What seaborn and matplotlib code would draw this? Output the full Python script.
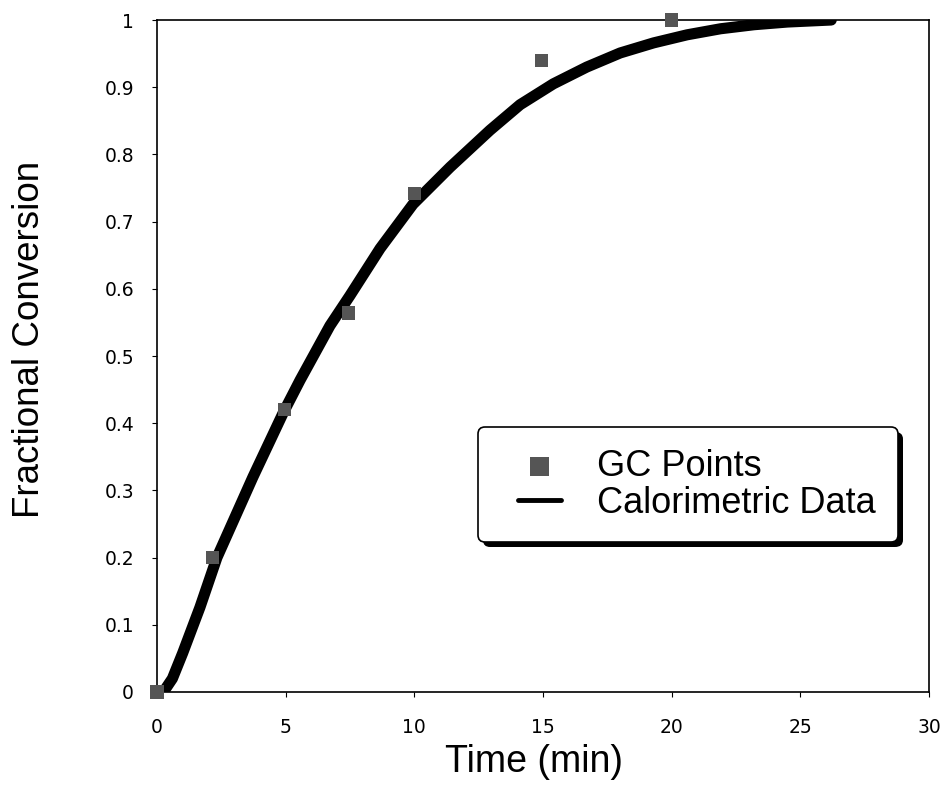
import matplotlib
matplotlib.use("Agg")
import matplotlib.pyplot as plt
import matplotlib.patheffects as pe
from matplotlib.legend_handler import HandlerLine2D, HandlerPathCollection
from matplotlib.lines import Line2D
from matplotlib.collections import PathCollection
import seaborn as sns
import pandas as pd

# GC points
gc_time = [0, 2.15, 4.95, 7.45, 10.0, 14.95, 20.0]
gc_conv = [0.0, 0.20, 0.421, 0.564, 0.742, 0.94, 1.0]

# Calorimetric data curve
cal_time = [0.25, 0.6, 1.0, 1.67, 2.33, 3.1, 3.73, 4.9, 5.56, 6.72, 7.5, 8.67,
            9.95, 11.39, 12.94, 14.11, 15.4, 16.7, 18.0, 19.3, 20.6, 21.9,
            23.2, 24.5, 26.2]
cal_conv = [0.0, 0.02, 0.058, 0.126, 0.2, 0.266, 0.32, 0.415, 0.464, 0.545,
            0.59, 0.66, 0.726, 0.781, 0.836, 0.874, 0.905, 0.93, 0.951, 0.966,
            0.978, 0.987, 0.993, 0.997, 1.0]

x_ticks = [0, 5, 10, 15, 20, 25, 30]
y_ticks = [0, 0.1, 0.2, 0.3, 0.4, 0.5, 0.6, 0.7, 0.8, 0.9, 1]
y_tick_labels = ["0", "0.1", "0.2", "0.3", "0.4", "0.5", "0.6", "0.7", "0.8", "0.9", "1"]

sns.set_style("ticks")
plt.rcParams['font.family'] = ['DejaVu Sans']
plt.rcParams['text.color'] = 'black'
plt.rcParams['axes.labelcolor'] = 'black'
plt.rcParams['xtick.color'] = 'black'
plt.rcParams['ytick.color'] = 'black'

fig = plt.figure(figsize=(9.45, 8.01), dpi=100)
ax = fig.add_axes([0.1661, 0.1361, 0.8170, 0.8389])

cal_df = pd.DataFrame({"time": cal_time, "conv": cal_conv})
gc_df = pd.DataFrame({"time": gc_time, "conv": gc_conv})

sns.lineplot(data=cal_df, x="time", y="conv", ax=ax, color="black",
             linewidth=8, solid_capstyle="round", solid_joinstyle="round",
             label="Calorimetric Data", zorder=2, sort=False)
sns.scatterplot(data=gc_df, x="time", y="conv", ax=ax, marker="s",
                color="#555555", s=90, edgecolor="none", label="GC Points",
                zorder=3, clip_on=False)

ax.set_xlim(0, 30)
ax.set_ylim(0, 1)
ax.set_xticks(x_ticks)
ax.set_xticklabels([str(t) for t in x_ticks])
ax.set_yticks(y_ticks)
ax.set_yticklabels(y_tick_labels)
ax.tick_params(axis="both", direction="out", length=3.5, width=0.8,
               labelsize=13.5, color="black", labelcolor="black")
ax.tick_params(axis="x", pad=15)
ax.tick_params(axis="y", pad=13)

for s in ax.spines.values():
    s.set_visible(True)
    s.set_linewidth(1.2)
    s.set_color("black")

ax.set_xlabel("Time (min)", fontsize=27, color="black",
              family=["Liberation Sans", "DejaVu Sans"])
ax.set_ylabel("Fractional Conversion", fontsize=26.5, color="black",
              family=["Liberation Sans", "DejaVu Sans"])
ax.xaxis.set_label_coords(0.488, -0.077)
ax.yaxis.set_label_coords(-0.143, 0.524)

handles, labels = ax.get_legend_handles_labels()
order = [labels.index("GC Points"), labels.index("Calorimetric Data")]
leg = ax.legend([handles[i] for i in order], [labels[i] for i in order],
                loc="upper left", bbox_to_anchor=(0.416, 0.394),
                prop={"family": ["Liberation Sans", "DejaVu Sans"], "size": 26},
                frameon=True, fancybox=True, framealpha=1, edgecolor="black",
                handlelength=1.7, handletextpad=1.0, labelspacing=0.05,
                borderpad=0.6, borderaxespad=0,
                handler_map={Line2D: HandlerLine2D(xpad=0.5),
                             PathCollection: HandlerPathCollection(xpad=0.5, sizes=[180])})
for t in leg.get_texts():
    t.set_color("black")
frame = leg.get_frame()
frame.set_linewidth(1.2)
frame.set_path_effects([pe.SimplePatchShadow(offset=(3.5, -3.5), shadow_rgbFace="black", alpha=1),
                        pe.Normal()])
for h in leg.legend_handles:
    if not isinstance(h, PathCollection):
        try:
            h.set_linewidth(3.5)
        except Exception:
            pass

fig.savefig("out.png", dpi=100)
